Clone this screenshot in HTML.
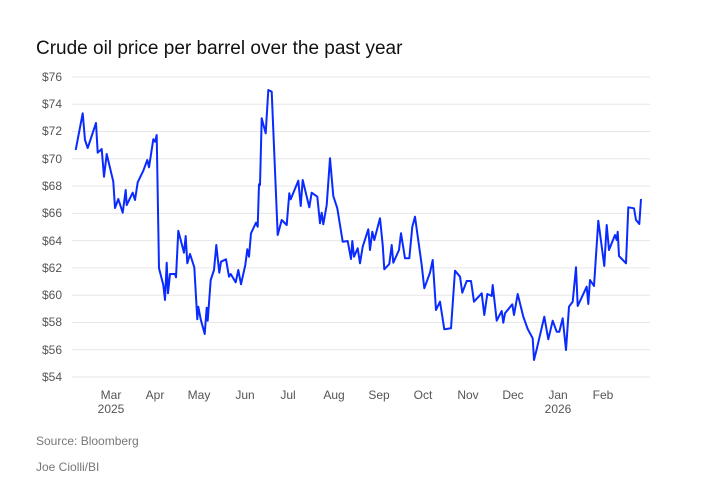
<!DOCTYPE html>
<html><head><meta charset="utf-8"><style>
body{margin:0;background:#fff;width:718px;height:492px;overflow:hidden;font-family:"Liberation Sans",sans-serif}
</style></head><body>
<svg width="718" height="492" xmlns="http://www.w3.org/2000/svg" font-family="Liberation Sans, sans-serif">
<text x="36" y="54" font-size="19" fill="#111">Crude oil price per barrel over the past year</text>
<g stroke="#e6e6e6" stroke-width="1">
<line x1="72" x2="650" y1="77" y2="77"/><line x1="72" x2="650" y1="104.3" y2="104.3"/><line x1="72" x2="650" y1="131.5" y2="131.5"/><line x1="72" x2="650" y1="158.8" y2="158.8"/><line x1="72" x2="650" y1="186.1" y2="186.1"/><line x1="72" x2="650" y1="213.4" y2="213.4"/><line x1="72" x2="650" y1="240.6" y2="240.6"/><line x1="72" x2="650" y1="267.9" y2="267.9"/><line x1="72" x2="650" y1="295.2" y2="295.2"/><line x1="72" x2="650" y1="322.5" y2="322.5"/><line x1="72" x2="650" y1="349.7" y2="349.7"/><line x1="72" x2="650" y1="377" y2="377"/>
</g>
<g font-size="12" fill="#555" text-anchor="end">
<text x="62" y="81">$76</text><text x="62" y="108">$74</text><text x="62" y="135">$72</text><text x="62" y="163">$70</text><text x="62" y="190">$68</text><text x="62" y="217">$66</text><text x="62" y="245">$64</text><text x="62" y="272">$62</text><text x="62" y="299">$60</text><text x="62" y="326">$58</text><text x="62" y="354">$56</text><text x="62" y="381">$54</text>
</g>
<g font-size="12" fill="#555" text-anchor="middle">
<text x="111" y="399">Mar</text><text x="111" y="413">2025</text><text x="155" y="399">Apr</text><text x="199" y="399">May</text><text x="245" y="399">Jun</text><text x="288" y="399">Jul</text><text x="334" y="399">Aug</text><text x="379" y="399">Sep</text><text x="423" y="399">Oct</text><text x="468" y="399">Nov</text><text x="513" y="399">Dec</text><text x="558" y="399">Jan</text><text x="558" y="413">2026</text><text x="603" y="399">Feb</text>
</g>
<polyline fill="none" stroke="#0a2bff" stroke-width="2" stroke-linejoin="round" points="75.7,150 82.7,113.3 85,140 87.7,148 96,123 97.7,152.7 101.7,149 104,176.7 106.7,154 113.3,181.7 115,208 118.3,199 122.7,212.7 125.7,190 126.7,205 132.7,192.7 135,200 137.7,182.3 143.3,170.7 147.3,160 149,167.3 153.3,139.3 155,141.7 156.7,135 159,268.3 163.3,285 165,300 166.7,262.7 168,293.3 170,274 175,274 176,277.3 178.3,230.7 184,252.7 185.7,236 187.3,263.3 190,254 194.3,267.3 197.3,319.3 198.3,306.7 200.7,319.3 204.7,334 206.7,307.7 207.7,320.7 210.7,280 214,270 216.3,245 219.3,272.7 221,261.7 226,259.3 229,276.7 230.7,274 235.7,282.3 238.3,270 241,284.3 245.3,265 247.3,249.3 249,256.7 251,233.3 256,222.7 257.7,226.7 259,184.3 260,185 261.7,118.3 265.7,133.3 268.3,90 271.7,91.7 277.7,235 281.7,220 286.7,225 289.3,193.3 290.7,199.3 298.3,180.7 300.7,206 302.7,180 309.3,207.3 311.7,192.7 317.3,196.7 320,223.3 321.7,212.7 323.3,224.3 326.7,205 330,158.3 333.3,196 337.3,208.3 342.7,241.7 347.7,241 351,259 352.3,241 354,256.7 357.7,248.3 360,263.3 362.7,246.7 368.3,229.3 370,250 372.3,231.7 374.3,240 380,218.3 382.7,245 384.3,269.3 389.3,264 391.7,245 393.3,262.7 399,250 401,233.3 405,258.3 409.3,258.3 412.3,226.7 415,216.7 421.7,265 424.3,288.3 430,272.7 432.7,260 436,310 440,301.7 444.3,329.3 451,328.3 455,270.7 460,276.7 462.3,292.7 466.7,281 471,281 474,301.7 481.7,293.3 484.3,315 487.3,294 491.7,296 492.7,285 496.7,320.7 501.7,311 503.3,322.7 505,313.3 512.3,304.3 514,315 517.7,294 523.3,316.7 527.7,329 532.7,338.3 534,360 536.7,349.3 544.3,316.7 548.3,339.3 552.7,320.7 556.7,331.7 559.3,331.7 562.7,318.3 566,350 569,306.7 572.7,301.7 576,267.3 577.7,306 586.7,286.7 588.3,304 590,280 594,286 598.3,220.7 604.3,266 606.7,225 609,250 615,235 616.7,240 617.7,231.7 619,256 626,263.3 628.3,207.3 634,208.3 636,220 639.3,224 641,199"/>
<text x="36" y="445" font-size="12" fill="#777">Source: Bloomberg</text>
<text x="36" y="471" font-size="12" fill="#777">Joe Ciolli/BI</text>
</svg>
</body></html>
